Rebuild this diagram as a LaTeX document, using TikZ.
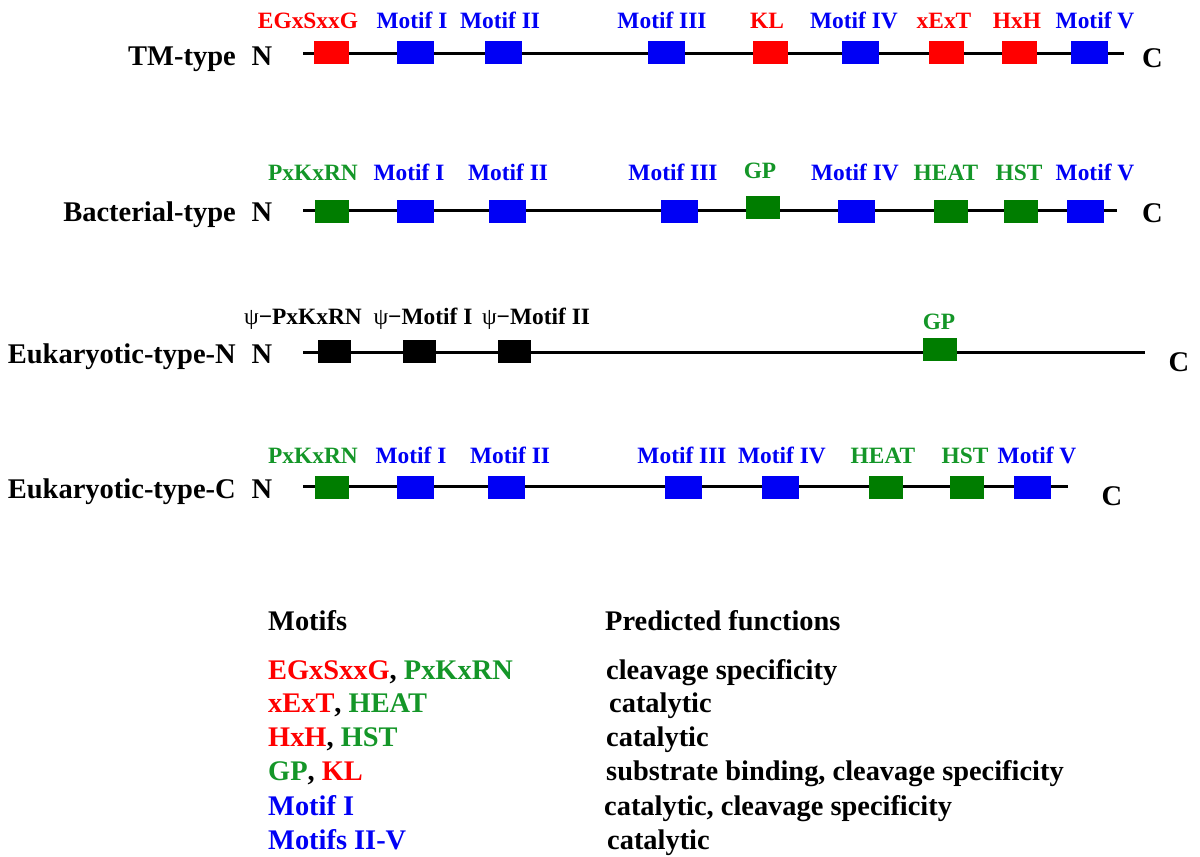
\documentclass[tikz,border=0pt]{standalone}
\usepackage{fontspec}
\setmainfont{Liberation Serif}
\usetikzlibrary{positioning}
\definecolor{MotifRed}{RGB}{255, 0, 0}
\definecolor{MotifBlue}{RGB}{0, 0, 245}
\definecolor{MotifGreen}{RGB}{0, 125, 0}
\definecolor{TagGreen}{RGB}{20, 150, 40}

\tikzset{
  motif/.style={draw=none, fill=#1, minimum height=23pt, inner sep=0pt},
  redbox/.style={motif=MotifRed, minimum width=35pt},
  bluebox/.style={motif=MotifBlue, minimum width=37pt},
  greenbox/.style={motif=MotifGreen, minimum width=34pt},
  psibox/.style={motif=black, minimum width=33pt},
  tag/.style={font=\fontsize{23.4}{25}\selectfont\bfseries, inner sep=0pt, anchor=base},
  rowname/.style={font=\fontsize{28.5}{30}\selectfont\bfseries, inner sep=0pt, anchor=base east},
  term/.style={font=\fontsize{28.5}{30}\selectfont\bfseries, inner sep=0pt, anchor=base},
  chain/.style={line width=3pt},
  legend/.style={font=\fontsize{28.4}{30}\selectfont\bfseries, inner sep=0pt, anchor=base west},
}

\begin{document}
\begin{tikzpicture}[x=1pt, y=-1pt]
    \useasboundingbox (0,0) rectangle (1200,857);

    % --- TM-type ---
    \node[rowname] (tmname) at (236,65) {TM-type};
    \node[term] (tmN) at (262,65) {N};
    \node[term] (tmC) at (1152.5,67) {C};
    \coordinate (tms) at (303,53);
    \coordinate (tme) at (1124,53);
    \draw[chain] (tms) -- (tme);
    \node[redbox] (tm1) at (331.5,52) {};
    \node[bluebox] (tm2) at (415.5,52) {};
    \node[bluebox] (tm3) at (503,52) {};
    \node[bluebox] (tm4) at (666,52) {};
    \node[redbox] (tm5) at (770.5,52) {};
    \node[bluebox] (tm6) at (860.5,52) {};
    \node[redbox] (tm7) at (946,52) {};
    \node[redbox] (tm8) at (1019,52) {};
    \node[bluebox] (tm9) at (1089.5,52) {};
    \node[tag, MotifRed] (tmt1) at (308,28) {EGxSxxG};
    \node[tag, MotifBlue] (tmt2) at (412,28) {Motif I};
    \node[tag, MotifBlue] (tmt3) at (500,28) {Motif II};
    \node[tag, MotifBlue] (tmt4) at (662,28) {Motif III};
    \node[tag, MotifRed] (tmt5) at (767,28) {KL};
    \node[tag, MotifBlue] (tmt6) at (854,28) {Motif IV};
    \node[tag, MotifRed] (tmt7) at (944,28) {xExT};
    \node[tag, MotifRed] (tmt8) at (1017,28) {HxH};
    \node[tag, MotifBlue] (tmt9) at (1095,28) {Motif V};

    % --- Bacterial-type ---
    \node[rowname] (bacname) at (236,221) {Bacterial-type};
    \node[term] (bacN) at (262,221) {N};
    \node[term] (bacC) at (1152.5,222) {C};
    \coordinate (bacs) at (303,210.5);
    \coordinate (bace) at (1117,210.5);
    \draw[chain] (bacs) -- (bace);
    \node[greenbox] (bac1) at (332,211) {};
    \node[bluebox] (bac2) at (415.5,211) {};
    \node[bluebox] (bac3) at (507.5,211) {};
    \node[bluebox] (bac4) at (679.5,211) {};
    \node[greenbox] (bac5) at (762.5,207.5) {};
    \node[bluebox] (bac6) at (856,211) {};
    \node[greenbox] (bac7) at (950.5,211) {};
    \node[greenbox] (bac8) at (1020.5,211) {};
    \node[bluebox] (bac9) at (1085.5,211) {};
    \node[tag, TagGreen] (bact1) at (313,180) {PxKxRN};
    \node[tag, MotifBlue] (bact2) at (409,180) {Motif I};
    \node[tag, MotifBlue] (bact3) at (508,180) {Motif II};
    \node[tag, MotifBlue] (bact4) at (673,180) {Motif III};
    \node[tag, TagGreen] (bact5) at (760,178) {GP};
    \node[tag, MotifBlue] (bact6) at (855,180) {Motif IV};
    \node[tag, TagGreen] (bact7) at (946,180) {HEAT};
    \node[tag, TagGreen] (bact8) at (1019,180) {HST};
    \node[tag, MotifBlue] (bact9) at (1095,180) {Motif V};

    % --- Eukaryotic-type-N ---
    \node[rowname] (eunname) at (236,363) {Eukaryotic-type-N};
    \node[term] (eunN) at (262,363) {N};
    \node[term] (eunC) at (1179,371) {C};
    \coordinate (euns) at (303,352);
    \coordinate (eune) at (1145,352);
    \draw[chain] (euns) -- (eune);
    \node[psibox] (eun1) at (334,351) {};
    \node[psibox] (eun2) at (419.5,351) {};
    \node[psibox] (eun3) at (514.5,351) {};
    \node[greenbox] (eun4) at (939.5,349.5) {};
    \node[tag] (eunt1) at (303,324) {{\mdseries ψ}−PxKxRN};
    \node[tag] (eunt2) at (423,324) {{\mdseries ψ}−Motif I};
    \node[tag] (eunt3) at (536,324) {{\mdseries ψ}−Motif II};
    \node[tag, TagGreen] (eunt4) at (939,329) {GP};

    % --- Eukaryotic-type-C ---
    \node[rowname] (eucname) at (236,498) {Eukaryotic-type-C};
    \node[term] (eucN) at (262,498) {N};
    \node[term] (eucC) at (1112,505) {C};
    \coordinate (eucs) at (303,486);
    \coordinate (euce) at (1068,486);
    \draw[chain] (eucs) -- (euce);
    \node[greenbox] (euc1) at (332,487) {};
    \node[bluebox] (euc2) at (415.5,487) {};
    \node[bluebox] (euc3) at (506.5,487) {};
    \node[bluebox] (euc4) at (683,487) {};
    \node[bluebox] (euc5) at (780.5,487) {};
    \node[greenbox] (euc6) at (885.5,487) {};
    \node[greenbox] (euc7) at (966.5,487) {};
    \node[bluebox] (euc8) at (1032,487) {};
    \node[tag, TagGreen] (euct1) at (313,463) {PxKxRN};
    \node[tag, MotifBlue] (euct2) at (411,463) {Motif I};
    \node[tag, MotifBlue] (euct3) at (510,463) {Motif II};
    \node[tag, MotifBlue] (euct4) at (682,463) {Motif III};
    \node[tag, MotifBlue] (euct5) at (782,463) {Motif IV};
    \node[tag, TagGreen] (euct6) at (883,463) {HEAT};
    \node[tag, TagGreen] (euct7) at (965,463) {HST};
    \node[tag, MotifBlue] (euct8) at (1037,463) {Motif V};

    % --- legend ---
    \node[legend] (lhead) at (268,630) {Motifs};
    \node[legend] (fhead) at (605,630) {Predicted functions};
    \node[legend] (l1) at (268,679) {\textcolor{MotifRed}{EGxSxxG}, \textcolor{TagGreen}{PxKxRN}};
    \node[legend] (l2) at (268,712) {\textcolor{MotifRed}{xExT}, \textcolor{TagGreen}{HEAT}};
    \node[legend] (l3) at (268,746) {\textcolor{MotifRed}{HxH}, \textcolor{TagGreen}{HST}};
    \node[legend] (l4) at (268,780) {\textcolor{TagGreen}{GP}, \textcolor{MotifRed}{KL}};
    \node[legend, MotifBlue] (l5) at (268,815) {Motif I};
    \node[legend, MotifBlue] (l6) at (268,849) {Motifs II-V};
    \node[legend] (f1) at (606,679) {cleavage specificity};
    \node[legend] (f2) at (609,712) {catalytic};
    \node[legend] (f3) at (606,746) {catalytic};
    \node[legend] (f4) at (606,780) {substrate binding, cleavage specificity};
    \node[legend] (f5) at (604,815) {catalytic, cleavage specificity};
    \node[legend] (f6) at (607,849) {catalytic};
\end{tikzpicture}
\end{document}
